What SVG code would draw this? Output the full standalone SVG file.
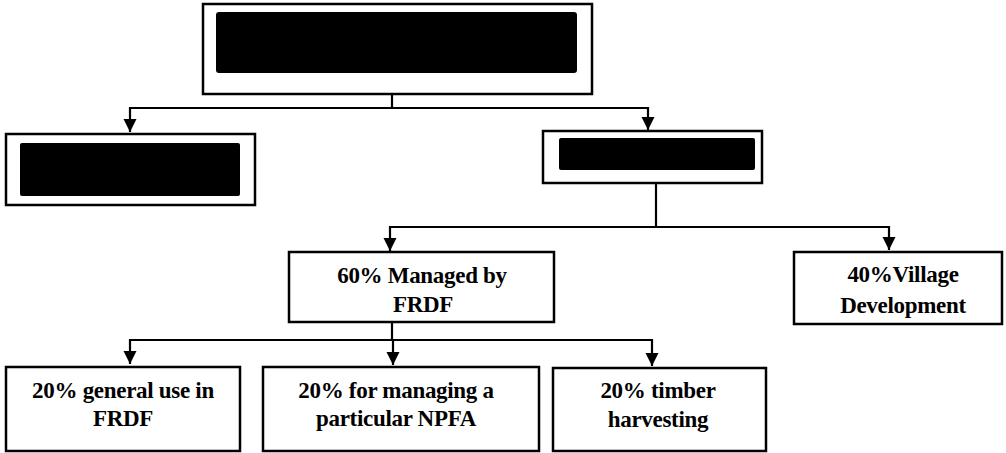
<svg xmlns="http://www.w3.org/2000/svg" width="1006" height="453" viewBox="0 0 1006 453">
<style>
.box{fill:#fff;stroke:#000;stroke-width:2.5}
.blk{fill:#000}
.ln{fill:none;stroke:#000;stroke-width:2.2}
.t{font-family:'Liberation Serif','Times New Roman','DejaVu Serif',serif;font-weight:700;font-size:23px;fill:#000;text-anchor:middle;letter-spacing:-0.3px}
</style>
<defs>
<marker id="ah" markerUnits="userSpaceOnUse" markerWidth="14" markerHeight="14" refX="13" refY="6.5" orient="auto">
<path d="M0,0 L13,6.5 L0,13 Z" fill="#000"/>
</marker>
</defs>
<rect width="1006" height="453" fill="#fff"/>
<g id="connectors">
<path class="ln" d="M392,94 V108"/>
<path class="ln" d="M648,108 H130 V132" marker-end="url(#ah)"/>
<path class="ln" d="M392,108 H648 V130" marker-end="url(#ah)"/>
<path class="ln" d="M656,183 V227"/>
<path class="ln" d="M656,227 H390 V251" marker-end="url(#ah)"/>
<path class="ln" d="M656,227 H889 V250" marker-end="url(#ah)"/>
<path class="ln" d="M392,322 V340"/>
<path class="ln" d="M392,340 H130 V364" marker-end="url(#ah)"/>
<path class="ln" d="M392,340 H393 V365" marker-end="url(#ah)"/>
<path class="ln" d="M392,340 H652 V366" marker-end="url(#ah)"/>
</g>
<g id="top">
<rect class="box" x="203" y="4" width="389" height="90"/>
<rect class="blk" x="216" y="12" width="361" height="61" rx="3"/>
</g>
<g id="left">
<rect class="box" x="6" y="134" width="249" height="71"/>
<rect class="blk" x="20" y="143" width="220" height="53" rx="2"/>
</g>
<g id="right">
<rect class="box" x="543" y="131" width="219" height="52"/>
<rect class="blk" x="559" y="138" width="196" height="32" rx="2"/>
</g>
<g id="managed">
<rect class="box" x="289" y="252" width="265" height="70"/>
<text class="t" x="422" y="283">60% Managed by</text>
<text class="t" x="423" y="312">FRDF</text>
</g>
<g id="village">
<rect class="box" x="794" y="252" width="208" height="72"/>
<text class="t" x="903" y="282">40%Village</text>
<text class="t" x="903" y="313">Development</text>
</g>
<g id="general">
<rect class="box" x="6" y="367" width="234" height="84"/>
<text class="t" x="123" y="398">20% general use in</text>
<text class="t" x="123" y="426">FRDF</text>
</g>
<g id="npfa">
<rect class="box" x="263" y="367" width="276" height="84"/>
<text class="t" x="396" y="398">20% for managing a</text>
<text class="t" x="396" y="426">particular NPFA</text>
</g>
<g id="timber">
<rect class="box" x="553" y="368" width="213" height="83"/>
<text class="t" x="658" y="398">20% timber</text>
<text class="t" x="658" y="427">harvesting</text>
</g>
</svg>
